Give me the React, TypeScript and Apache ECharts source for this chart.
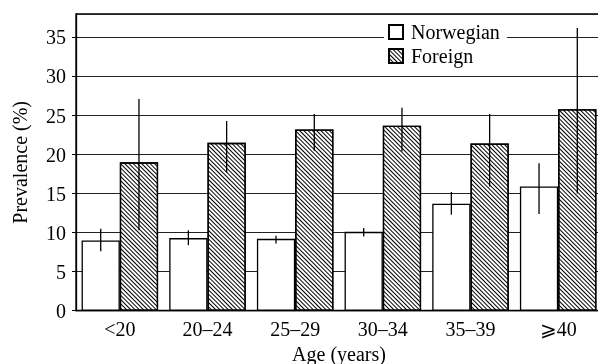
import React, { useEffect, useRef } from "react";
import * as echarts from "echarts";

const categories = ["<20", "20–24", "25–29", "30–34", "35–39", "⩾40"];
const seriesNames = ["Norwegian", "Foreign"];
const norwegian = [9.0, 9.3, 9.2, 10.1, 13.7, 15.9];
const norwegianLow = [7.6, 8.4, 8.6, 9.5, 12.3, 12.4];
const norwegianHigh = [10.5, 10.3, 9.6, 10.6, 15.2, 18.9];
const foreign = [19.0, 21.5, 23.2, 23.7, 21.4, 25.8];
const foreignLow = [10.3, 17.7, 20.5, 20.4, 15.9, 15.0];
const foreignHigh = [27.1, 24.3, 25.2, 26.0, 25.2, 36.2];

const FONT = "'Liberation Serif', 'Times New Roman', serif";
const GAP_PCT = 12.7;

export default function App() {
  const ref = useRef<HTMLDivElement>(null);
  useEffect(() => {
    const chart = echarts.init(ref.current!, null, { renderer: "svg" });
    const barShare = (1 - GAP_PCT / 100) / 2;
    const makeErr = (low: number[], high: number[], sign: number) => ({
      type: "custom",
      silent: true,
      z: 5,
      data: categories.map((_, i) => [i, low[i], high[i]]),
      encode: { x: 0, y: [1, 2] },
      renderItem: (_params: any, api: any) => {
        const i = api.value(0);
        const p1 = api.coord([i, api.value(1)]);
        const p2 = api.coord([i, api.value(2)]);
        const band = api.size([1, 0])[0];
        const dx = (sign * band * barShare) / 2;
        return {
          type: "line",
          shape: { x1: p1[0] + dx, y1: p1[1], x2: p1[0] + dx, y2: p2[1] },
          style: { stroke: "#000", lineWidth: 1.3 },
        };
      },
    });
    const text = { fontFamily: FONT, fontSize: 20, color: "#000" };
    chart.setOption({
      animation: false,
      grid: {
        left: 76,
        top: 14,
        width: 526,
        bottom: 53.3,
        outerBoundsMode: "none",
        containLabel: false,
        show: true,
        borderColor: "#000",
        borderWidth: 1.3,
        backgroundColor: "transparent",
      },
      legend: {
        data: seriesNames,
        orient: "vertical",
        left: 384,
        top: 20,
        padding: [2, 7, 2, 4],
        icon: "rect",
        itemWidth: 14,
        itemHeight: 14,
        itemGap: 4,
        backgroundColor: "#fff",
        textStyle: { ...text, lineHeight: 20, padding: [0, 0, 0, 3] },
      },
      xAxis: {
        type: "category",
        data: categories,
        axisLine: { lineStyle: { color: "#000", width: 1.3 } },
        axisTick: { show: false },
        axisLabel: { ...text, margin: 8 },
        name: "Age (years)",
        nameLocation: "middle",
        nameGap: 31,
        nameTextStyle: text,
      },
      yAxis: {
        type: "value",
        min: 0,
        max: 38,
        interval: 5,
        axisLine: { show: true, lineStyle: { color: "#000", width: 1.3 } },
        axisTick: { show: true, length: 4, lineStyle: { color: "#000" } },
        axisLabel: { ...text, margin: 10, showMaxLabel: false },
        splitLine: { lineStyle: { color: "#222", width: 1 } },
        name: "Prevalence (%)",
        nameLocation: "middle",
        nameGap: 46,
        nameTextStyle: text,
      },
      series: [
        {
          name: "Norwegian",
          type: "bar",
          data: norwegian,
          barGap: "0%",
          barCategoryGap: GAP_PCT + "%",
          itemStyle: { color: "#fff", borderColor: "#000", borderWidth: 1.3 },
        },
        {
          name: "Foreign",
          type: "bar",
          data: foreign,
          barGap: "0%",
          barCategoryGap: GAP_PCT + "%",
          itemStyle: {
            color: "#fff",
            borderColor: "#000",
            borderWidth: 1.3,
            decal: {
              symbol: "rect",
              symbolSize: 1,
              dashArrayX: [1, 0],
              dashArrayY: [1, 1.8],
              rotation: Math.PI / 4,
              color: "#000",
              backgroundColor: "#fff",
            },
          },
        },
        makeErr(norwegianLow, norwegianHigh, -1),
        makeErr(foreignLow, foreignHigh, 1),
      ],
    });
    return () => chart.dispose();
  }, []);
  return (
    <div
      ref={ref}
      style={{ position: "fixed", left: 0, top: 0, width: 598, height: 364 }}
    />
  );
}
